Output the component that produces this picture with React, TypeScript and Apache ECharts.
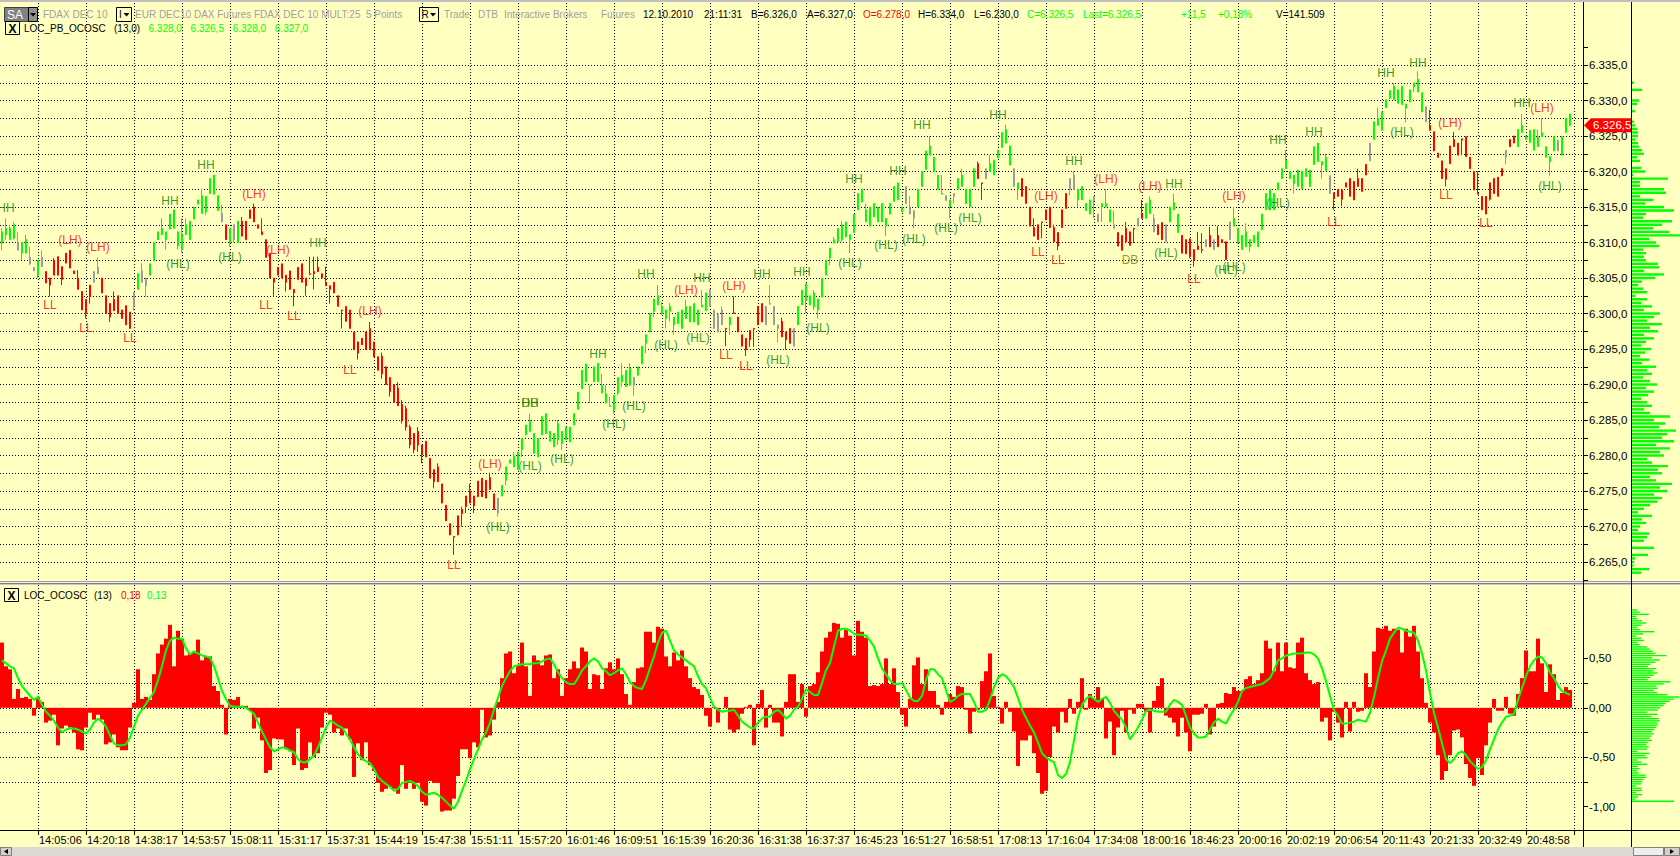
import React, { useEffect, useRef } from "react";
import * as echarts from "echarts";

// ---------- data ----------
const SLOT_COUNT = 396;
const FIRST_LABEL_SLOT = 9;
const SLOTS_PER_LABEL = 12;

const timeLabels = [
  "14:05:06", "14:20:18", "14:38:17", "14:53:57", "15:08:11", "15:31:17", "15:37:31", "15:44:19",
  "15:47:38", "15:51:11", "15:57:20", "16:01:46", "16:09:51", "16:15:39", "16:20:36", "16:31:38",
  "16:37:37", "16:45:23", "16:51:27", "16:58:51", "17:08:13", "17:16:04", "17:34:08", "18:00:16",
  "18:46:23", "20:00:16", "20:02:19", "20:06:54", "20:11:43", "20:21:33", "20:32:49", "20:48:58",
];

// [open, close, low, high]
const candles = [
  [6309.9,6311.5,6308.9,6312.0],[6311.1,6312.0,6310.4,6313.4],[6310.4,6312.0,6310.4,6312.5],[6310.6,6312.5,6310.4,6312.9],[6310.0,6308.9,6308.9,6311.5],
  [6308.5,6310.0,6307.5,6310.0],[6308.5,6310.4,6308.5,6311.1],[6307.9,6307.0,6306.8,6309.4],[6306.5,6306.0,6306.0,6306.5],[6305.4,6307.5,6305.0,6307.5],
  [6307.9,6306.6,6306.6,6308.9],[6305.9,6304.3,6304.3,6305.9],[6305.0,6304.0,6302.4,6305.0],[6307.5,6305.4,6305.4,6307.8],[6308.0,6305.4,6305.4,6308.0],
  [6306.6,6304.8,6304.0,6306.6],[6308.5,6307.1,6307.1,6308.5],[6308.9,6306.4,6306.4,6308.9],[6306.0,6305.6,6305.6,6306.0],[6305.0,6303.4,6303.4,6306.1],
  [6303.1,6300.5,6300.5,6303.1],[6302.0,6300.0,6299.3,6302.0],[6304.0,6302.4,6301.4,6304.0],[6305.9,6304.4,6304.4,6305.9],[6306.5,6305.6,6305.6,6307.9],
  [6305.0,6302.9,6302.9,6305.0],[6302.5,6300.0,6300.0,6302.5],[6301.4,6299.5,6298.8,6301.4],[6302.0,6300.4,6300.4,6303.1],[6302.5,6300.0,6300.0,6302.5],
  [6300.5,6299.3,6299.3,6300.5],[6301.1,6298.4,6298.4,6301.1],[6300.2,6297.9,6297.9,6300.2],[6301.0,6303.0,6300.4,6303.0],[6303.4,6305.6,6303.4,6305.6],
  [6304.4,6306.0,6304.4,6307.1],[6303.9,6305.0,6302.4,6305.0],[6305.4,6307.0,6305.4,6307.0],[6307.4,6310.0,6307.4,6310.0],[6310.4,6311.5,6310.4,6311.5],
  [6311.1,6312.0,6311.1,6313.4],[6310.4,6311.5,6309.0,6311.5],[6311.9,6314.0,6311.9,6314.0],[6312.0,6314.6,6312.0,6314.6],[6309.5,6311.5,6309.0,6311.5],
  [6309.0,6311.1,6308.5,6313.4],[6311.1,6312.5,6311.1,6313.4],[6310.4,6313.0,6310.4,6313.0],[6313.3,6315.0,6313.3,6315.0],[6315.4,6316.0,6315.4,6316.0],
  [6314.1,6316.6,6314.1,6317.6],[6314.3,6316.5,6313.9,6316.5],[6316.9,6319.0,6316.9,6319.0],[6316.8,6319.5,6316.8,6319.5],[6314.5,6316.6,6314.5,6316.6],
  [6314.1,6312.9,6312.9,6315.3],[6312.5,6310.4,6310.4,6312.5],[6310.0,6312.0,6309.4,6312.0],[6312.5,6310.4,6310.0,6312.5],[6310.0,6313.0,6310.0,6313.0],
  [6313.0,6310.9,6310.9,6313.6],[6313.0,6310.4,6310.4,6313.0],[6314.6,6313.4,6313.4,6314.6],[6315.0,6312.9,6312.9,6315.5],[6312.5,6312.0,6312.0,6312.5],
  [6311.5,6311.1,6311.1,6313.4],[6310.4,6307.9,6307.9,6310.4],[6308.5,6305.0,6305.0,6308.5],[6305.0,6304.4,6302.4,6305.0],[6306.5,6305.4,6305.4,6306.5],
  [6307.0,6305.0,6305.0,6307.0],[6305.4,6304.4,6303.1,6305.4],[6306.0,6303.4,6303.4,6306.0],[6303.4,6302.9,6301.0,6303.4],[6306.5,6304.8,6304.8,6306.5],
  [6307.0,6304.4,6304.4,6307.0],[6305.0,6303.9,6302.5,6305.0],[6305.6,6305.5,6305.5,6308.0],[6305.9,6305.6,6303.4,6308.0],[6306.5,6305.9,6305.9,6308.0],
  [6305.6,6305.0,6305.0,6305.6],[6304.4,6303.9,6303.9,6306.6],[6303.9,6303.4,6301.4,6303.9],[6304.4,6302.9,6302.9,6304.4],[6302.5,6301.0,6301.0,6302.5],
  [6300.5,6300.4,6297.9,6300.5],[6301.0,6298.9,6298.9,6301.0],[6300.5,6297.9,6297.9,6300.5],[6297.4,6294.9,6294.9,6297.4],[6296.0,6294.4,6293.5,6296.0],
  [6296.5,6295.6,6295.6,6296.5],[6297.4,6294.9,6294.9,6297.4],[6297.9,6294.9,6294.9,6298.8],[6296.0,6293.9,6293.9,6296.0],[6293.9,6292.0,6292.0,6293.9],
  [6294.0,6291.5,6290.8,6294.5],[6292.5,6290.0,6290.0,6292.5],[6291.0,6289.0,6288.3,6291.0],[6290.0,6287.5,6287.5,6290.0],[6289.5,6287.0,6287.0,6290.3],
  [6287.2,6285.0,6284.5,6287.8],[6286.6,6284.0,6283.5,6287.0],[6284.0,6281.5,6281.0,6284.3],[6283.1,6280.8,6280.3,6283.1],[6283.4,6281.5,6280.5,6284.0],
  [6281.5,6280.1,6278.9,6281.5],[6282.0,6279.8,6279.8,6282.0],[6279.6,6276.8,6276.8,6279.6],[6278.0,6276.3,6275.4,6278.0],[6278.4,6276.3,6276.3,6278.9],
  [6276.0,6273.3,6273.3,6276.0],[6273.0,6270.8,6270.8,6273.0],[6270.4,6268.8,6268.8,6270.4],[6268.6,6268.5,6266.0,6268.6],[6271.5,6268.8,6268.8,6271.5],
  [6272.4,6271.8,6270.0,6272.8],[6274.3,6272.8,6271.9,6274.3],[6275.0,6273.3,6273.3,6276.0],[6274.3,6272.9,6271.9,6274.3],[6276.4,6274.2,6274.2,6276.4],
  [6276.8,6274.2,6274.2,6276.8],[6276.5,6274.0,6274.0,6276.5],[6276.9,6275.2,6275.2,6277.6],[6274.6,6272.4,6272.4,6274.6],[6271.9,6274.0,6271.4,6274.0],
  [6274.3,6275.8,6274.3,6275.8],[6276.5,6278.4,6275.8,6278.4],[6278.9,6279.4,6278.9,6279.4],[6278.4,6279.9,6278.4,6280.5],[6278.0,6280.5,6278.0,6280.5],
  [6280.8,6282.4,6279.8,6282.4],[6282.9,6284.3,6282.9,6284.3],[6283.4,6285.0,6283.4,6285.9],[6280.3,6283.1,6280.3,6283.1],[6279.8,6282.4,6279.8,6282.4],
  [6282.9,6285.5,6282.9,6285.5],[6283.1,6285.9,6283.1,6285.9],[6282.0,6283.4,6282.0,6283.4],[6281.2,6283.1,6281.2,6283.1],[6282.2,6284.5,6281.5,6285.0],
  [6281.7,6283.4,6280.8,6283.4],[6282.2,6284.0,6282.2,6284.0],[6281.9,6284.0,6281.9,6284.0],[6284.3,6285.9,6284.3,6285.9],[6286.5,6288.9,6286.5,6288.9],
  [6289.4,6292.0,6289.4,6292.0],[6290.4,6292.9,6290.4,6292.9],[6289.8,6289.9,6287.4,6289.9],[6290.4,6292.5,6290.4,6292.5],[6290.4,6293.0,6290.4,6293.0],
  [6288.8,6289.9,6288.8,6291.5],[6287.4,6288.7,6287.4,6289.9],[6286.9,6287.0,6286.9,6288.3],[6286.4,6288.5,6285.9,6288.5],[6288.8,6291.0,6288.5,6291.0],
  [6290.4,6291.3,6289.7,6293.0],[6289.7,6292.0,6289.7,6292.0],[6289.9,6292.3,6289.9,6293.0],[6291.0,6289.9,6288.4,6291.0],[6291.3,6292.5,6291.3,6292.5],
  [6292.9,6295.4,6292.9,6295.4],[6295.8,6297.0,6294.4,6297.0],[6297.4,6300.0,6297.4,6300.0],[6300.3,6302.0,6299.5,6302.0],[6301.2,6302.5,6301.2,6304.0],
  [6300.0,6301.0,6299.8,6301.6],[6299.3,6300.5,6297.9,6300.5],[6300.3,6301.0,6298.9,6301.5],[6298.4,6299.5,6297.0,6299.5],[6298.6,6300.2,6298.6,6300.2],
  [6297.9,6300.5,6297.9,6300.5],[6299.3,6301.0,6299.3,6301.9],[6298.8,6301.0,6298.8,6301.0],[6298.8,6301.4,6298.8,6301.4],[6298.4,6300.5,6298.4,6300.5],
  [6300.9,6301.2,6300.9,6303.3],[6300.4,6302.9,6300.4,6302.9],[6303.4,6301.0,6301.0,6303.4],[6300.5,6297.9,6297.9,6300.5],[6299.9,6297.4,6297.4,6299.9],
  [6300.5,6298.4,6298.4,6301.0],[6297.9,6297.8,6295.4,6297.9],[6298.4,6299.5,6297.0,6299.5],[6300.1,6300.0,6300.0,6302.4],[6299.5,6297.4,6297.4,6299.5],
  [6297.0,6295.4,6295.4,6297.0],[6296.5,6294.9,6294.0,6296.5],[6297.6,6296.3,6295.3,6297.6],[6297.9,6297.8,6295.3,6297.9],[6301.0,6298.4,6298.4,6301.0],
  [6301.4,6298.8,6298.8,6301.4],[6301.0,6298.4,6298.4,6301.0],[6301.4,6301.3,6301.3,6304.0],[6301.0,6298.4,6298.4,6301.0],[6298.4,6297.9,6295.9,6298.4],
  [6298.9,6296.7,6296.7,6299.4],[6297.4,6296.3,6294.9,6297.4],[6297.9,6295.8,6295.8,6297.9],[6295.4,6297.9,6295.4,6297.9],[6298.4,6301.0,6298.4,6301.0],
  [6301.2,6303.3,6301.2,6303.3],[6301.8,6304.2,6300.1,6304.2],[6301.2,6302.5,6301.2,6302.5],[6300.9,6302.9,6300.5,6303.3],[6300.5,6302.0,6299.3,6302.0],
  [6302.3,6305.0,6302.3,6305.0],[6305.4,6307.5,6305.4,6307.5],[6307.8,6309.2,6306.8,6309.2],[6309.9,6310.4,6309.9,6310.8],[6310.1,6312.0,6310.1,6312.0],
  [6310.4,6312.5,6310.1,6313.0],[6310.8,6312.9,6310.8,6312.9],[6310.4,6311.1,6308.5,6311.1],[6311.4,6314.0,6311.4,6314.0],[6314.6,6316.9,6314.6,6316.9],
  [6315.7,6317.5,6315.7,6317.5],[6312.9,6314.6,6312.9,6315.5],[6312.3,6315.0,6312.3,6315.0],[6313.6,6315.5,6313.6,6315.5],[6312.9,6315.0,6312.9,6315.0],
  [6312.9,6315.5,6312.9,6315.5],[6312.3,6313.4,6310.9,6313.4],[6314.0,6315.5,6314.0,6315.5],[6315.8,6317.9,6315.8,6317.9],[6316.0,6318.4,6316.0,6318.4],
  [6314.3,6315.0,6314.3,6315.0],[6317.9,6315.5,6315.5,6317.9],[6315.0,6314.0,6314.0,6316.5],[6314.5,6313.4,6312.0,6314.5],[6315.0,6317.5,6315.0,6317.5],
  [6317.9,6320.0,6317.9,6320.0],[6320.3,6322.9,6320.3,6322.9],[6322.3,6323.6,6322.3,6325.0],[6320.0,6322.0,6320.0,6322.0],[6317.5,6319.5,6317.5,6319.5],
  [6316.8,6316.9,6316.8,6319.5],[6316.6,6315.9,6315.9,6316.6],[6315.0,6316.0,6313.4,6316.0],[6316.9,6316.5,6315.5,6316.9],[6317.5,6319.0,6317.5,6319.0],
  [6317.9,6319.5,6317.9,6320.4],[6315.5,6317.5,6315.5,6317.5],[6315.0,6317.5,6315.0,6317.5],[6317.9,6320.4,6317.9,6320.4],[6321.1,6319.0,6319.0,6321.4],
  [6318.4,6318.3,6316.0,6318.4],[6319.0,6320.4,6319.0,6320.4],[6320.0,6321.1,6320.0,6322.3],[6319.5,6321.6,6319.5,6321.6],[6321.9,6323.0,6321.9,6323.0],
  [6323.4,6325.5,6323.4,6325.5],[6324.0,6325.9,6324.0,6326.6],[6320.9,6323.6,6320.9,6323.6],[6320.4,6317.9,6317.9,6320.4],[6317.5,6318.4,6316.0,6318.4],
  [6319.0,6316.5,6316.5,6319.0],[6317.9,6315.5,6315.5,6317.9],[6315.0,6312.3,6312.3,6315.0],[6312.1,6310.9,6310.9,6313.4],[6312.5,6310.4,6310.4,6312.5],
  [6312.9,6312.8,6310.6,6312.9],[6314.6,6313.2,6313.2,6314.6],[6315.0,6312.1,6312.1,6315.0],[6312.1,6310.1,6310.1,6312.5],[6311.4,6309.5,6308.9,6311.4],
  [6314.6,6312.1,6312.1,6314.6],[6316.9,6314.8,6314.8,6316.9],[6317.5,6319.0,6316.6,6319.0],[6317.5,6319.5,6317.5,6320.1],[6316.0,6317.5,6315.0,6317.5],
  [6316.0,6317.9,6316.0,6317.9],[6314.5,6315.5,6314.5,6315.5],[6314.0,6316.0,6314.0,6316.0],[6316.5,6315.9,6313.4,6316.5],[6314.0,6312.9,6312.9,6314.0],
  [6315.0,6315.5,6312.9,6315.5],[6315.0,6315.5,6315.0,6317.5],[6312.9,6314.6,6312.9,6314.6],[6312.5,6312.0,6312.0,6314.5],[6311.4,6309.5,6309.5,6311.4],
  [6311.0,6308.9,6308.9,6311.0],[6312.0,6310.1,6310.1,6312.9],[6311.5,6309.6,6309.6,6311.5],[6312.0,6311.9,6309.9,6312.0],[6312.3,6313.4,6312.3,6313.4],
  [6314.1,6313.4,6313.4,6316.0],[6313.4,6315.5,6313.4,6315.5],[6314.1,6316.0,6314.1,6316.5],[6313.4,6311.5,6311.5,6314.0],[6312.5,6311.1,6311.1,6312.5],
  [6312.8,6310.4,6310.4,6312.8],[6310.1,6312.5,6310.1,6312.5],[6312.9,6315.0,6312.9,6315.0],[6314.6,6315.6,6314.6,6316.9],[6311.4,6314.0,6311.4,6314.0],
  [6311.0,6308.5,6308.5,6311.0],[6310.4,6308.4,6308.4,6310.4],[6310.5,6308.0,6307.8,6310.6],[6309.0,6307.5,6306.6,6309.0],[6309.5,6309.0,6309.0,6311.5],
  [6309.0,6308.9,6308.5,6311.3],[6310.4,6309.4,6309.4,6310.4],[6311.0,6309.4,6309.4,6312.2],[6310.4,6309.0,6309.0,6310.4],[6311.0,6309.4,6309.4,6312.3],
  [6310.4,6310.0,6310.0,6310.4],[6310.1,6307.6,6307.6,6310.1],[6310.4,6312.9,6310.4,6312.9],[6312.3,6313.4,6312.3,6315.0],[6310.0,6312.0,6309.8,6312.0],
  [6309.0,6311.0,6309.0,6311.0],[6309.4,6311.5,6309.4,6312.7],[6309.4,6310.4,6308.7,6310.4],[6310.0,6311.0,6310.0,6311.0],[6309.4,6311.5,6309.4,6311.5],
  [6311.8,6314.0,6311.8,6314.0],[6314.6,6316.9,6314.6,6316.9],[6314.6,6317.5,6314.6,6317.5],[6314.6,6316.9,6314.6,6316.9],[6317.4,6318.4,6317.4,6318.4],
  [6319.0,6320.4,6319.0,6320.4],[6320.4,6321.6,6320.4,6323.0],[6319.0,6320.0,6319.0,6320.0],[6318.3,6319.5,6316.9,6319.5],[6317.9,6320.2,6317.9,6320.2],
  [6317.6,6320.0,6317.6,6320.0],[6319.3,6320.4,6319.3,6320.4],[6317.9,6320.2,6317.9,6320.2],[6321.0,6323.5,6321.0,6323.5],[6321.4,6324.0,6321.4,6324.0],
  [6320.9,6321.4,6319.0,6321.4],[6320.1,6322.0,6320.1,6322.5],[6319.4,6316.9,6316.9,6319.4],[6317.0,6316.2,6314.6,6317.0],[6317.5,6316.5,6316.5,6317.5],
  [6317.4,6316.1,6315.1,6317.4],[6318.4,6317.8,6317.8,6318.4],[6319.0,6316.5,6316.5,6319.0],[6318.6,6316.0,6316.0,6318.6],[6319.0,6317.9,6317.9,6320.4],
  [6319.0,6317.2,6317.2,6319.0],[6321.0,6319.5,6319.5,6321.0],[6321.5,6324.0,6321.5,6324.0],[6324.5,6327.0,6324.5,6327.0],[6326.5,6327.5,6326.5,6329.0],
  [6325.8,6328.4,6325.8,6328.4],[6329.0,6330.1,6329.0,6330.1],[6330.3,6331.4,6330.3,6331.4],[6330.1,6332.0,6330.1,6332.4],[6329.6,6331.5,6329.6,6331.5],
  [6329.4,6332.0,6329.4,6332.0],[6328.9,6329.5,6326.9,6329.5],[6329.8,6331.5,6329.8,6331.5],[6331.9,6332.5,6331.2,6332.5],[6331.2,6333.0,6331.2,6334.1],
  [6328.4,6331.1,6328.4,6331.1],[6329.1,6327.0,6327.0,6329.1],[6326.5,6325.8,6325.8,6328.7],[6325.6,6322.9,6322.9,6325.6],[6322.6,6322.0,6322.0,6322.6],
  [6321.5,6319.0,6319.0,6321.5],[6320.4,6318.9,6317.9,6320.4],[6323.6,6321.1,6321.1,6323.6],[6324.5,6323.5,6323.5,6325.6],[6324.0,6322.3,6322.3,6324.0],
  [6324.6,6324.4,6322.3,6324.6],[6324.9,6322.1,6322.1,6324.9],[6322.0,6320.4,6320.4,6322.0],[6320.0,6317.4,6317.4,6320.0],[6316.9,6316.8,6316.8,6320.0],
  [6316.5,6314.6,6314.6,6316.5],[6316.5,6314.0,6314.0,6316.5],[6318.4,6316.1,6315.9,6318.4],[6319.0,6316.9,6316.9,6319.0],[6319.2,6316.5,6316.5,6319.2],
  [6320.4,6319.4,6319.4,6320.4],[6323.0,6322.0,6321.0,6323.0],[6324.5,6323.5,6323.5,6324.5],[6325.0,6324.0,6324.0,6325.0],[6323.5,6325.9,6323.5,6325.9],
  [6325.5,6326.5,6325.5,6328.1],[6324.5,6325.0,6324.5,6325.0],[6324.1,6325.8,6324.1,6325.8],[6323.0,6325.9,6323.0,6325.9],[6323.5,6324.9,6323.5,6325.9],
  [6324.9,6325.5,6324.9,6327.5],[6322.0,6323.5,6322.0,6323.5],[6321.4,6322.1,6319.4,6322.1],[6322.9,6324.9,6322.9,6324.9],[6322.9,6324.4,6322.9,6324.4],
  [6322.3,6324.9,6322.3,6324.9],[6325.5,6327.5,6325.5,6327.5],[6326.5,6328.1,6326.5,6328.1],
];

// g = up-trend bar, r = down-trend bar, x = neutral (gray) bar
const trend =
  "ggggxggxxg" + "xrrrrrrrrr" + "rrrxxrrrrr" + "rrrxgxxggg" + "gggggggggg" +
  "gggggxrgxg" + "rrrrrrrrrr" + "rrrrrrrrrr" + "rrrrrrrrrr" + "rrrrrrrrrr" +
  "rrrrrrrrrr" + "rrrrrrrrrr" + "rrrrxggggg" + "gggggggggg" + "gggggggggg" +
  "ggggggggxg" + "gggggggggg" + "gggggggxxx" + "xrgrrrrrrr" + "rxxxxrrrxg" +
  "gggggggggg" + "gggggggggg" + "ggggggxxxg" + "ggggggxgxg" + "ggggrrxggg" +
  "gggxgrrrrr" + "rrrrrrrxxg" + "gggxxgggxr" + "rrrrxrggxr" + "rxgggrrrrr" +
  "rxrxrrrxgg" + "gggggggggg" + "gggggggggg" + "ggxrrrrrrr" + "rrxggggggg" +
  "ggggggxrrr" + "rrrrrrrrrr" + "rrrrrrxrrg" + "gggggggggx" + "ggg";

const osc = [
  0.66,0.42,0.39,0.09,0.19,0.10,0.11,0.09,-0.08,0.11,
  0.06,-0.15,-0.13,-0.07,-0.38,-0.21,-0.18,-0.20,-0.25,-0.42,
  -0.43,-0.20,-0.05,-0.12,-0.07,-0.12,-0.37,-0.35,-0.27,-0.40,
  -0.43,-0.43,-0.20,0.05,0.39,0.09,0.11,0.08,0.34,0.55,
  0.64,0.70,0.84,0.42,0.78,0.70,0.53,0.55,0.57,0.69,
  0.48,0.52,0.52,0.22,0.17,0.03,-0.27,0.09,0.08,0.11,
  0.02,0.02,-0.03,-0.21,-0.10,-0.33,-0.66,-0.63,-0.31,-0.32,
  -0.32,-0.42,-0.44,-0.58,-0.21,-0.63,-0.61,-0.35,-0.50,-0.46,
  -0.20,-0.05,-0.07,-0.25,-0.21,-0.28,-0.21,-0.32,-0.70,-0.36,
  -0.53,-0.35,-0.58,-0.64,-0.76,-0.85,-0.82,-0.80,-0.82,-0.87,
  -0.58,-0.82,-0.76,-0.82,-0.76,-0.95,-0.99,-0.74,-0.76,-0.76,
  -1.05,-1.04,-1.04,-0.92,-0.69,-0.42,-0.42,-0.51,-0.35,-0.40,
  -0.02,-0.30,-0.28,-0.12,0.06,0.30,0.55,0.57,0.35,0.43,
  0.66,0.42,0.12,0.53,0.48,0.43,0.53,0.54,0.30,0.39,
  0.12,0.30,0.39,0.47,0.40,0.61,0.57,0.19,0.34,0.33,
  0.19,0.40,0.46,0.39,0.50,0.34,0.14,0.03,0.26,0.40,
  0.41,0.77,0.77,0.66,0.82,0.80,0.52,0.42,0.56,0.48,
  0.58,0.42,0.30,0.21,0.19,0.13,-0.08,-0.19,0.01,-0.15,
  0.00,0.11,-0.22,-0.25,-0.22,-0.06,0.01,0.03,-0.38,0.04,
  0.18,-0.20,0.03,-0.15,-0.15,-0.29,0.06,0.34,0.34,0.06,
  0.24,-0.09,0.22,0.24,0.36,0.57,0.71,0.77,0.86,0.85,
  0.71,0.79,0.73,0.53,0.88,0.77,0.71,0.22,0.23,0.22,
  0.24,0.50,0.24,0.40,0.16,-0.07,-0.19,0.09,0.43,0.51,
  0.24,0.39,0.17,0.17,0.03,-0.07,0.06,0.14,0.11,0.22,
  0.21,-0.02,-0.26,-0.04,-0.02,0.27,0.37,0.55,0.12,0.01,
  -0.16,0.06,-0.04,-0.24,-0.59,-0.33,-0.33,-0.28,-0.46,-0.66,
  -0.87,-0.84,-0.50,-0.19,-0.25,-0.04,-0.15,0.09,-0.06,0.06,
  0.30,-0.02,0.14,0.09,0.21,0.09,-0.31,-0.14,-0.48,-0.20,
  -0.03,-0.25,-0.02,-0.06,0.04,0.04,-0.04,-0.25,0.07,0.22,
  0.30,-0.08,-0.10,-0.15,-0.29,-0.10,-0.25,-0.44,-0.07,-0.07,
  -0.06,0.04,-0.27,-0.19,0.04,0.05,0.15,0.14,0.21,0.17,
  0.17,0.29,0.32,0.24,0.28,0.35,0.68,0.60,0.37,0.66,
  0.37,0.66,0.41,0.40,0.66,0.71,0.35,0.28,0.24,0.26,
  -0.14,-0.10,-0.33,-0.04,-0.15,-0.30,0.06,-0.24,0.06,-0.04,
  -0.03,0.35,0.21,0.57,0.81,0.80,0.83,0.78,0.80,0.79,
  0.56,0.80,0.72,0.83,0.57,0.30,0.05,-0.15,-0.25,-0.48,
  -0.73,-0.64,-0.48,-0.23,-0.22,-0.30,-0.57,-0.71,-0.79,-0.51,
  -0.68,-0.38,-0.15,0.09,-0.03,-0.03,0.11,-0.06,-0.08,0.14,
  0.30,0.58,0.37,0.37,0.70,0.45,0.16,0.44,0.34,0.08,
  0.15,0.21,0.18,
];

const oscSignal = [
  0.48,0.45,0.42,0.40,0.30,0.22,0.17,0.12,0.08,0.11,
  0.03,-0.04,-0.08,-0.13,-0.20,-0.25,-0.22,-0.21,-0.21,-0.22,
  -0.24,-0.26,-0.22,-0.15,-0.11,-0.14,-0.19,-0.28,-0.36,-0.38,
  -0.38,-0.37,-0.30,-0.19,-0.08,-0.02,0.04,0.10,0.16,0.28,
  0.42,0.58,0.68,0.71,0.70,0.70,0.60,0.54,0.57,0.55,
  0.53,0.52,0.51,0.42,0.30,0.17,0.09,0.02,0.01,0.01,
  0.01,0.00,-0.03,-0.06,-0.15,-0.24,-0.32,-0.40,-0.44,-0.42,
  -0.40,-0.41,-0.43,-0.45,-0.52,-0.55,-0.55,-0.52,-0.48,-0.40,
  -0.30,-0.20,-0.13,-0.15,-0.18,-0.20,-0.26,-0.32,-0.40,-0.47,
  -0.52,-0.54,-0.56,-0.62,-0.70,-0.74,-0.77,-0.80,-0.84,-0.82,
  -0.76,-0.75,-0.74,-0.76,-0.79,-0.85,-0.88,-0.87,-0.86,-0.88,
  -0.91,-0.95,-0.99,-1.02,-0.95,-0.84,-0.74,-0.62,-0.52,-0.42,
  -0.32,-0.25,-0.15,-0.02,0.10,0.22,0.30,0.37,0.42,0.43,
  0.44,0.44,0.44,0.45,0.45,0.47,0.49,0.50,0.44,0.36,
  0.30,0.26,0.24,0.24,0.30,0.38,0.42,0.47,0.50,0.47,
  0.40,0.37,0.33,0.35,0.38,0.40,0.34,0.26,0.22,0.20,
  0.19,0.28,0.40,0.52,0.66,0.76,0.78,0.68,0.58,0.54,
  0.51,0.48,0.45,0.42,0.32,0.24,0.20,0.10,0.01,-0.02,
  -0.04,-0.03,-0.03,-0.02,-0.08,-0.14,-0.17,-0.20,-0.21,-0.15,
  -0.11,-0.09,-0.09,-0.04,-0.02,-0.06,-0.11,-0.08,-0.02,0.01,
  0.09,0.19,0.16,0.13,0.13,0.25,0.38,0.45,0.62,0.78,
  0.80,0.80,0.78,0.75,0.74,0.74,0.73,0.68,0.62,0.50,
  0.40,0.34,0.28,0.24,0.24,0.25,0.18,0.10,0.07,0.07,
  0.12,0.28,0.39,0.39,0.34,0.30,0.18,0.06,0.08,0.12,
  0.14,0.14,0.14,0.06,-0.04,-0.04,-0.02,0.08,0.21,0.30,
  0.34,0.32,0.27,0.21,0.10,-0.02,-0.10,-0.18,-0.25,-0.35,
  -0.46,-0.50,-0.53,-0.55,-0.68,-0.71,-0.67,-0.55,-0.33,-0.10,
  0.03,0.09,0.12,0.09,0.06,0.09,0.11,0.05,-0.03,-0.08,
  -0.12,-0.20,-0.32,-0.26,-0.20,-0.12,-0.03,-0.02,-0.03,-0.04,
  -0.04,-0.04,0.03,0.08,0.06,0.03,-0.08,-0.20,-0.26,-0.30,
  -0.30,-0.29,-0.22,-0.15,-0.11,-0.14,-0.16,-0.08,-0.02,0.06,
  0.17,0.20,0.21,0.22,0.23,0.24,0.27,0.30,0.38,0.48,
  0.50,0.53,0.54,0.55,0.55,0.55,0.56,0.56,0.54,0.50,
  0.40,0.27,0.12,-0.02,-0.08,-0.16,-0.16,-0.15,-0.14,-0.12,
  -0.13,-0.14,-0.05,0.11,0.30,0.47,0.58,0.70,0.76,0.81,
  0.80,0.78,0.77,0.76,0.68,0.55,0.38,0.15,-0.05,-0.20,
  -0.36,-0.52,-0.56,-0.52,-0.46,-0.44,-0.48,-0.54,-0.58,-0.62,
  -0.60,-0.53,-0.42,-0.32,-0.22,-0.15,-0.09,-0.08,-0.06,0.08,
  0.20,0.32,0.42,0.48,0.52,0.51,0.45,0.36,0.30,0.22,
  0.17,0.15,0.13,
];

const pivotIdx = [
  1,12,17,21,24,32,42,44,51,57,63,66,69,73,79,87,92,
  113,122,124,132,132,132,140,149,153,158,161,166,171,174,175,181,183,186,190,194,200,204,
  212,213,221,224,228,230,236,242,249,259,261,264,268,276,282,
  287,291,293,298,306,308,308,319,319,328,333,346,350,
  354,361,362,371,380,385,387,
];
const pivotPrice = [
  6314.8,6301.2,6310.4,6298.0,6309.3,6296.6,6315.9,6307.0,6320.9,6308.0,6316.9,6301.2,6308.9,6299.7,6310.0,6292.0,6300.3,
  6264.6,6278.8,6270.0,6287.4,6287.4,6278.5,6279.5,6294.3,6284.4,6287.0,6305.5,6295.6,6303.3,6296.6,6305.0,6294.2,6303.9,6292.6,6305.5,6293.4,6305.9,6297.9,
  6307.1,6319.0,6309.6,6320.1,6310.5,6326.5,6312.1,6313.4,6328.0,6308.6,6316.5,6307.5,6321.5,6318.9,6307.6,
  6317.9,6308.5,6318.3,6304.9,6306.1,6306.5,6316.5,6315.5,6324.4,6325.5,6312.9,6333.9,6325.6,
  6335.3,6316.7,6326.9,6312.7,6329.6,6328.9,6318.0,
];
const pivotText = [
  "HH","LL","(LH)","LL","(LH)","LL","HH","(HL)","HH","(HL)","(LH)","LL","(LH)","LL","HH","LL","(LH)",
  "LL","(LH)","(HL)","DB","HH","(HL)","(HL)","HH","(HL)","(HL)","HH","(HL)","(LH)","(HL)","HH","LL","(LH)","LL","HH","(HL)","HH","(HL)",
  "(HL)","HH","(HL)","HH","(HL)","HH","(HL)","(HL)","HH","LL","(LH)","LL","HH","(LH)","DB",
  "(LH)","(HL)","HH","LL","(HL)","(HL)","(LH)","(HL)","HH","HH","LL","HH","(HL)",
  "HH","LL","(LH)","LL","HH","(LH)","(HL)",
];

const priceLabelValues = [6265,6270,6275,6280,6285,6290,6295,6300,6305,6310,6315,6320,6325,6330,6335];
const priceTickValues = [
  6262.5,6265,6267.5,6270,6272.5,6275,6277.5,6280,6282.5,6285,6287.5,6290,6292.5,6295,6297.5,6300,
  6302.5,6305,6307.5,6310,6312.5,6315,6317.5,6320,6322.5,6325,6327.5,6330,6332.5,6335,6337.5,
];
const oscLabelValues = [-1, -0.5, 0, 0.5];
const oscTickValues = [-1, -0.75, -0.5, -0.25, 0, 0.25, 0.5];

// volume-at-price profile, bottom-up, bins of 0.5 points starting at 6263.5
const profileStart = 6263.5;
const profileStep = 0.5;
const priceProfile = [
  9,17,1,2,3,16,0,22,0,12,15,17,6,
  8,14,10,20,6,12,18,25,30,22,35,28,40,24,18,30,26,36,20,15,
  32,28,38,24,42,30,35,44,27,33,22,38,18,12,20,15,9,16,22,14,
  25,18,11,20,15,24,10,17,8,13,19,9,14,22,12,26,18,30,15,22,
  28,12,20,9,15,
  3,15,11,6,10,23,32,12,27,26,14,12,14,11,27,24,17,48,37,21,
  30,40,11,14,42,32,13,21,8,34,32,8,8,36,1,13,9,0,8,5,
  12,10,7,6,3,6,6,5,3,2,0,0,3,0,5,7,0,0,10,0,2,
];

// oscillator value distribution, top-down from 0.99 in steps of 0.022
const oscProfileStart = 0.99;
const oscProfileStep = -0.022;
const oscProfile = [
  5,7.7,16.7,4.3,5,10,14.3,9,5,7.7,
  22.3,11,4.3,9,11.7,5.7,7.7,15,17.7,20.7,
  23.3,34.3,20,27.7,23.3,18.3,15.7,24.3,21,25,
  21.7,18.3,15.7,38.3,31.7,24.3,25.7,21.7,25,35,
  47,42.3,37.7,33.3,31.7,28.3,26,15,25,19,
  26.7,27.7,25,25.7,24.3,22.3,20,21.7,19,17.7,
  20,15.7,14.3,16.7,15,5,17.7,13.3,15,5.7,
  9,15,5.7,7.7,5,6.7,13.3,14.3,11,10,
  9,4.3,9,10,4,10,6,3,42,
];

const lastPrice = 6326.5;

// ---------- style ----------
const FONT = '"Liberation Sans", Arial, sans-serif';
const BG = "#FFFFC0";
const GREEN = "#00FF00";
const RED = "#FF0000";
const GRAY = "#9C9C9C";
const DARK_GREEN = "#008000";
const OLIVE = "#808000";
const HDR_GRAY = "#A0A0A0";
const HDR_SIZE = 10;

const slots = Array.from({ length: SLOT_COUNT }, (_, i) => String(i));
const isLabelSlot = (i: number) => i >= FIRST_LABEL_SLOT && (i - FIRST_LABEL_SLOT) % SLOTS_PER_LABEL === 0;
const dotted = { color: "#000", width: 1, type: [1, 2] };

function fmtPrice(v: number) {
  const whole = Math.floor(v + 1e-9);
  const frac = Math.round((v - whole) * 10);
  const th = Math.floor(whole / 1000);
  const rest = String(whole % 1000).padStart(3, "0");
  return `${th}.${rest},${frac}`;
}
function fmtOsc(v: number) {
  return v.toFixed(2).replace(".", ",");
}

function buildOption() {
  const candleData = candles.map((c, i) => {
    const t = trend[i];
    const col = t === "g" ? GREEN : t === "r" ? RED : GRAY;
    return {
      value: c,
      itemStyle: { color: col, color0: col, borderColor: col, borderColor0: col, borderColorDoji: col },
    };
  });
  const pivotColor = (t: string) =>
    t === "DB" ? OLIVE : t === "HH" || t === "(HL)" ? DARK_GREEN : RED;
  const pivotData = pivotIdx.map((x, i) => ({
    name: pivotText[i],
    value: [x, pivotPrice[i]],
    label: { color: pivotColor(pivotText[i]) },
  }));

  const profileRender = (h: number) => (params: any, api: any) => {
    const v = api.value(0);
    const p = api.value(1);
    const a = api.coord([0, p]);
    const b = api.coord([v, p]);
    return {
      type: "rect",
      shape: { x: a[0], y: a[1] - h / 2, width: Math.max(0, b[0] - a[0]), height: h },
      style: { fill: GREEN },
    };
  };

  const hiddenCat = (gridIndex: number) => ({
    gridIndex, type: "category", data: slots, boundaryGap: true,
    axisLine: { show: false }, axisTick: { show: false }, axisLabel: { show: false }, splitLine: { show: false },
  });

  return {
    animation: false,
    backgroundColor: BG,
    textStyle: { fontFamily: FONT },
    grid: [
      { left: 0, top: 29.5, width: 1584, height: 568 },
      { left: 0, top: 609, width: 1584, height: 255 },
      { left: 2, top: 3, width: 1580, height: 827 },
      { left: 1632, top: 29.5, width: 48, height: 568 },
      { left: 1632, top: 609, width: 48, height: 255 },
    ],
    xAxis: [
      hiddenCat(0),
      hiddenCat(1),
      {
        gridIndex: 2, type: "category", data: slots, boundaryGap: false,
        axisLine: { show: false },
        axisTick: { show: true, interval: (i: number) => isLabelSlot(i), length: 5, lineStyle: { color: "#000" } },
        axisLabel: {
          show: true,
          interval: (i: number) => isLabelSlot(i),
          formatter: (_v: string, i: number) =>
            isLabelSlot(i) ? timeLabels[(i - FIRST_LABEL_SLOT) / SLOTS_PER_LABEL] ?? "" : "",
          align: "left", margin: 4, color: "#000", fontSize: 11, fontFamily: FONT, padding: [0, 0, 0, 1],
        },
        splitLine: { show: true, interval: (i: number) => isLabelSlot(i), lineStyle: dotted },
      },
      { gridIndex: 3, type: "value", min: 0, max: 48, show: false },
      { gridIndex: 4, type: "value", min: 0, max: 48, show: false },
    ],
    yAxis: [
      {
        gridIndex: 0, type: "value", position: "right", min: 6260, max: 6340, interval: 5,
        axisLine: { show: false },
        axisTick: { show: true, customValues: priceTickValues, length: 4, lineStyle: { color: "#000" } },
        axisLabel: { show: true, customValues: priceLabelValues, formatter: fmtPrice, color: "#000", fontSize: 11.5, margin: 5, fontFamily: FONT },
        splitLine: { show: true, showMinLine: false, showMaxLine: false, lineStyle: dotted },
      },
      {
        gridIndex: 1, type: "value", position: "right", min: -1.5, max: 1, interval: 0.5,
        axisLine: { show: false },
        axisTick: { show: true, customValues: oscTickValues, length: 4, lineStyle: { color: "#000" } },
        axisLabel: { show: true, customValues: oscLabelValues, formatter: fmtOsc, color: "#000", fontSize: 11.5, margin: 5, fontFamily: FONT },
        splitLine: { show: true, showMinLine: false, showMaxLine: false, lineStyle: dotted },
      },
      { gridIndex: 2, type: "value", min: 0, max: 1, show: false },
      { gridIndex: 3, type: "value", min: 6260, max: 6340, show: false },
      { gridIndex: 4, type: "value", min: -1.5, max: 1, show: false },
    ],
    series: [
      {
        type: "candlestick", xAxisIndex: 0, yAxisIndex: 0, data: candleData,
        barWidth: 2.2, itemStyle: { borderWidth: 1 }, silent: true, z: 3,
      },
      {
        type: "scatter", xAxisIndex: 0, yAxisIndex: 0, data: pivotData,
        symbolSize: 1, itemStyle: { color: "rgba(0,0,0,0)" }, silent: true, z: 5,
        label: { show: true, position: "inside", formatter: (p: any) => p.name, fontSize: 12, fontFamily: FONT },
      },
      {
        type: "bar", xAxisIndex: 1, yAxisIndex: 1, data: osc,
        barWidth: "100%", barGap: "0%", barCategoryGap: "0%", itemStyle: { color: RED }, silent: true, z: 3,
      },
      {
        type: "line", xAxisIndex: 1, yAxisIndex: 1, data: oscSignal,
        showSymbol: false, symbol: "none", lineStyle: { color: GREEN, width: 2 }, silent: true, z: 4,
      },
      {
        type: "custom", xAxisIndex: 3, yAxisIndex: 3, encode: { x: 0, y: 1 },
        data: priceProfile.map((v, i) => [v, profileStart + i * profileStep]),
        renderItem: profileRender(2.4), silent: true,
      },
      {
        type: "custom", xAxisIndex: 4, yAxisIndex: 4, encode: { x: 0, y: 1 },
        data: oscProfile.map((v, i) => [v, oscProfileStart + i * oscProfileStep]),
        renderItem: profileRender(1.4), silent: true,
      },
    ],
  };
}

function txt(x: number, y: number, text: string, fill: string, size = HDR_SIZE, extra: any = {}) {
  return {
    type: "text", x, y, z: 100,
    style: { text, fill, fontSize: size, fontFamily: FONT, verticalAlign: "middle", align: "left", ...extra },
  };
}
function hline(x1: number, x2: number, y: number, stroke: string) {
  return { type: "line", z: 100, shape: { x1, y1: y, x2, y2: y }, style: { stroke, lineWidth: 1 } };
}
function vline(x: number, y1: number, y2: number, stroke: string) {
  return { type: "line", z: 100, shape: { x1: x, y1, x2: x, y2 }, style: { stroke, lineWidth: 1 } };
}
function box(x: number, y: number, w: number, h: number, fill: string, stroke: string) {
  return { type: "rect", z: 100, shape: { x, y, width: w, height: h }, style: { fill, stroke, lineWidth: 1 } };
}
function tri(cx: number, cy: number) {
  return { type: "polygon", z: 101, shape: { points: [[cx - 3, cy - 1.5], [cx + 3, cy - 1.5], [cx, cy + 2]] }, style: { fill: "#000" } };
}

function buildGraphics(yLast: number) {
  const r1 = 14.5;
  const r2 = 28.5;
  const g: any[] = [
    { type: "rect", z: 99, shape: { x: 0, y: 0, width: 1680, height: 2 }, style: { fill: "#C0C0C0" } },
    // header row 1
    box(4.5, 7.5, 24, 14, "#808080", "#404040"),
    txt(7, r1, "SA", "#FFFFFF", 12),
    box(28.5, 7.5, 9, 14, "#909090", "#000"),
    tri(33, r1),
    txt(43, r1, "FDAX DEC 10", HDR_GRAY),
    box(116.5, 7.5, 15, 14, "none", "#000"),
    txt(119, r1, "I", "#000"),
    tri(126.5, r1),
    txt(135, r1, "EUR DEC10 DAX Futures FDAX DEC 10 MULT:25  5 Points", HDR_GRAY),
    box(419.5, 7.5, 19, 14, "none", "#000"),
    txt(421.5, r1, "R", "#000"),
    tri(433, r1),
    txt(444, r1, "Trade", HDR_GRAY),
    txt(478, r1, "DTB", HDR_GRAY),
    txt(504, r1, "Interactive Brokers", HDR_GRAY),
    txt(601, r1, "Futures", HDR_GRAY),
    txt(643, r1, "12.10.2010", "#000"),
    txt(704, r1, "21:11:31", "#000"),
    txt(751, r1, "B=6.326,0", "#000"),
    txt(807, r1, "A=6.327,0", "#000"),
    txt(863, r1, "O=6.278,0", RED),
    txt(918, r1, "H=6.334,0", "#000"),
    txt(974, r1, "L=6.230,0", "#000"),
    txt(1027, r1, "C=6.326,5", GREEN),
    txt(1083, r1, "Last=6.326,5", GREEN),
    txt(1181, r1, "+11,5", GREEN),
    txt(1218, r1, "+0,18%", GREEN),
    txt(1276, r1, "V=141.509", "#000"),
    // header row 2
    box(5.5, 21.5, 14, 13, "none", "#000"),
    txt(12.5, r2, "X", "#000", 12, { align: "center", fontWeight: "bold" }),
    txt(24, r2, "LOC_PB_OCOSC", "#000"),
    txt(114, r2, "(13,0)", "#000"),
    txt(148.5, r2, "6.328,0", GREEN),
    txt(190.6, r2, "6.326,5", GREEN),
    txt(232.7, r2, "6.328,0", GREEN),
    txt(274.8, r2, "6.327,0", GREEN),
    // panel separator
    hline(0, 1680, 581.5, "#A0A0A0"),
    hline(0, 1680, 582.5, "#F0F0F0"),
    hline(0, 1680, 583.5, "#808080"),
    hline(0, 1680, 584.5, "#C8C8C8"),
    // lower panel header
    box(4.5, 588.5, 14, 13, "none", "#000"),
    txt(11.5, 595.5, "X", "#000", 12, { align: "center", fontWeight: "bold" }),
    txt(24, 595.5, "LOC_OCOSC", "#000"),
    txt(94, 595.5, "(13)", "#000"),
    txt(121, 595.5, "0,18", RED),
    txt(147, 595.5, "0,13", GREEN),
    // axis lines
    vline(1583.5, 2, 847, "#000"),
    vline(1631.5, 2, 847, "#000"),
    hline(0, 1680, 830.5, "#000"),
    // scrollbar
    { type: "rect", z: 99, shape: { x: 0, y: 847, width: 1680, height: 9 }, style: { fill: "#DCDAD4" } },
    box(0.5, 847.5, 11, 8, "#D4D0C8", "#808080"),
    { type: "polygon", z: 101, shape: { points: [[4, 851.5], [8, 849], [8, 854]] }, style: { fill: "#000" } },
    box(1633.5, 847.5, 30, 8, "#EEEEEE", "#808080"),
    box(1664.5, 847.5, 15, 8, "#D4D0C8", "#808080"),
    { type: "polygon", z: 101, shape: { points: [[1674, 851.5], [1670, 849], [1670, 854]] }, style: { fill: "#000" } },
    // last price flag
    {
      type: "polygon", z: 100,
      shape: { points: [[1584, yLast], [1591, yLast - 7], [1631, yLast - 7], [1631, yLast + 7], [1591, yLast + 7]] },
      style: { fill: RED },
    },
    txt(1593, yLast, fmtPrice(lastPrice), "#FFFFFF", 11.5),
  ];
  return g;
}

export default function App() {
  const ref = useRef<HTMLDivElement>(null);
  useEffect(() => {
    if (!ref.current) return;
    const chart = echarts.init(ref.current, undefined, { renderer: "svg" });
    chart.setOption(buildOption() as any);
    const yLast = chart.convertToPixel({ yAxisIndex: 0 } as any, lastPrice) as unknown as number;
    chart.setOption({ graphic: buildGraphics(yLast) } as any);
    return () => chart.dispose();
  }, []);
  return (
    <div
      ref={ref}
      style={{ position: "absolute", left: 0, top: 0, width: 1680, height: 856 }}
    />
  );
}
